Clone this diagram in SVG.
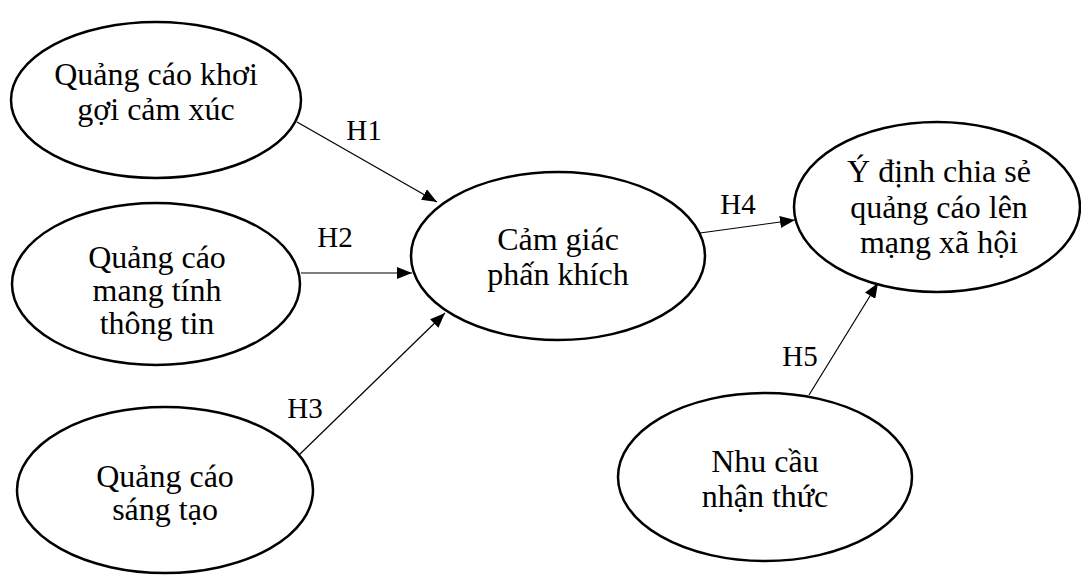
<svg xmlns="http://www.w3.org/2000/svg" width="1081" height="575" viewBox="0 0 1081 575">
<style>
.node ellipse{fill:#fff;stroke:#000;stroke-width:2.5}
.node text{font-family:"Liberation Serif","Times New Roman",serif;font-size:32px;fill:#000;text-anchor:middle}
.lbl{font-family:"Liberation Serif","Times New Roman",serif;font-size:29px;fill:#000;text-anchor:middle}
.edge{stroke:#000;stroke-width:1.2;fill:none;marker-end:url(#arr)}
</style>
<defs>
<marker id="arr" markerUnits="userSpaceOnUse" markerWidth="16" markerHeight="12" refX="15" refY="6" orient="auto">
<path d="M0,0 L15,6 L0,12 Z" fill="#000"/>
</marker>
</defs>
<rect width="1081" height="575" fill="#fff"/>
<g id="connectors">
<line class="edge" x1="297" y1="122" x2="437" y2="202"/>
<line class="edge" x1="301" y1="273" x2="412" y2="273"/>
<line class="edge" x1="299" y1="455" x2="445" y2="313"/>
<line class="edge" x1="700" y1="233" x2="795" y2="220"/>
<line class="edge" x1="809" y1="395" x2="878" y2="283"/>
<text class="lbl" x="364" y="140">H1</text>
<text class="lbl" x="335" y="247">H2</text>
<text class="lbl" x="305" y="418">H3</text>
<text class="lbl" x="738" y="214">H4</text>
<text class="lbl" x="800" y="366">H5</text>
</g>
<g id="n1" class="node">
<ellipse cx="156" cy="100" rx="145" ry="78"/>
<text x="156" y="85">Quảng cáo khơi</text>
<text x="156" y="120">gợi cảm xúc</text>
</g>
<g id="n2" class="node">
<ellipse cx="156" cy="284" rx="144" ry="81"/>
<text x="157" y="268">Quảng cáo</text>
<text x="157" y="301">mang tính</text>
<text x="157" y="334">thông tin</text>
</g>
<g id="n3" class="node">
<ellipse cx="165" cy="490" rx="148" ry="83"/>
<text x="165" y="487">Quảng cáo</text>
<text x="165" y="520">sáng tạo</text>
</g>
<g id="n4" class="node">
<ellipse cx="558" cy="256" rx="147" ry="84"/>
<text x="558" y="250">Cảm giác</text>
<text x="558" y="285">phấn khích</text>
</g>
<g id="n5" class="node">
<ellipse cx="937" cy="207" rx="143" ry="85"/>
<text x="939" y="182">Ý định chia sẻ</text>
<text x="939" y="218">quảng cáo lên</text>
<text x="939" y="253">mạng xã hội</text>
</g>
<g id="n6" class="node">
<ellipse cx="765" cy="477" rx="147" ry="84"/>
<text x="765" y="472">Nhu cầu</text>
<text x="765" y="507">nhận thức</text>
</g>
</svg>
